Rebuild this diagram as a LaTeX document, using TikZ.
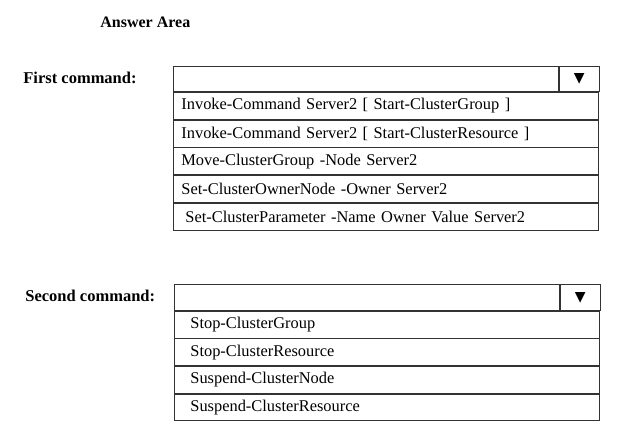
\documentclass[tikz,border=0pt]{standalone}
\usepackage{fontspec}
\setmainfont{Liberation Serif}
\newfontfamily\symfont{DejaVu Sans}
\usetikzlibrary{positioning}

\begin{document}
\begin{tikzpicture}
[x=1pt,y=-1pt,line width=0.8pt]
\tikzset{
	title/.style = {anchor=west, inner sep=0, font=\fontsize{16.5}{19}\selectfont\bfseries},
	header/.style = {draw=black!80, anchor=north west, minimum width=385pt, minimum height=#1, inner sep=0},
	button/.style = {draw=black!80, minimum width=40pt, minimum height=#1, inner sep=0, font=\symfont\fontsize{14}{14}\selectfont},
	option/.style 2 args = {draw=black!80, minimum height=#1, inner ysep=0, inner xsep=#2,
		text width=425pt-2*#2, align=left, font=\fontsize{16.4}{19}\selectfont}
}
\useasboundingbox (0,0) rectangle (624,441);

\node (answer) [title, font=\fontsize{16}{19}\selectfont\bfseries] at (100,22) {Answer Area};

% first drop-down
\node (first) [title] at (23,78) {First command:};
\node (head1) [header=25pt] at (173,66) {};
\node (btn1) [button=25pt, right=0pt of head1] {▼};
\node (opt11) [option={27pt}{8pt}, below right=0pt and 0pt of head1.south west] {Invoke-Command Server2 [ Start-ClusterGroup ]};
\node (opt12) [option={27pt}{8pt}, below=0pt of opt11] {Invoke-Command Server2 [ Start-ClusterResource ]};
\node (opt13) [option={27pt}{8pt}, below=0pt of opt12] {Move-ClusterGroup -Node Server2};
\node (opt14) [option={27pt}{8pt}, below=0pt of opt13] {Set-ClusterOwnerNode -Owner Server2};
\node (opt15) [option={27pt}{8pt}, below=0pt of opt14] {\hspace*{4pt}Set-ClusterParameter -Name Owner Value Server2};

% second drop-down
\node (second) [title] at (25,296) {Second command:};
\node (head2) [header=26pt] at (174,284) {};
\node (btn2) [button=26pt, right=0pt of head2] {▼};
\node (opt21) [option={26.8pt}{16pt}, below right=0pt and 0pt of head2.south west] {Stop-ClusterGroup};
\node (opt22) [option={26.8pt}{16pt}, below=0pt of opt21] {Stop-ClusterResource};
\node (opt23) [option={26.8pt}{16pt}, below=0pt of opt22] {Suspend-ClusterNode};
\node (opt24) [option={26.8pt}{16pt}, below=0pt of opt23] {Suspend-ClusterResource};
\end{tikzpicture}
\end{document}
